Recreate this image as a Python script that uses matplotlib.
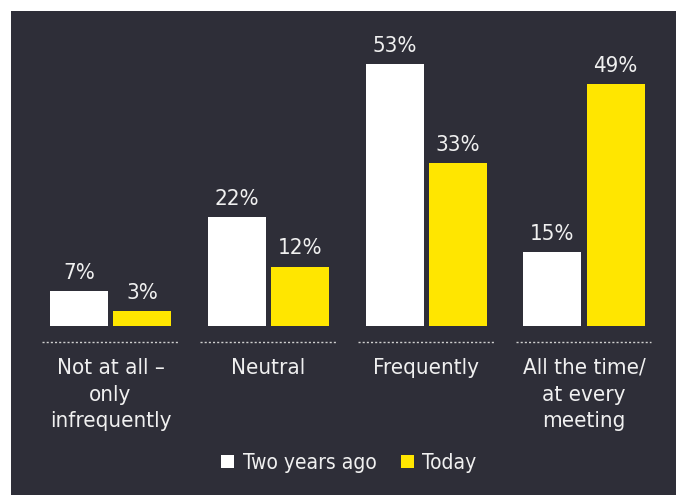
import numpy as np
import matplotlib.pyplot as plt
from matplotlib.patches import Rectangle, Patch

# data
categories = ['Not at all \u2013\nonly\ninfrequently', 'Neutral', 'Frequently', 'All the time/\nat every\nmeeting']
two_years_ago = [7, 22, 53, 15]
today = [3, 12, 33, 49]
series_names = ['Two years ago', 'Today']

bg = '#2e2e38'
yellow = '#ffe600'
txt = '#f0f0f0'

plt.rcParams['font.family'] = ['DejaVu Sans']
plt.rcParams['font.stretch'] = 'condensed'

fig = plt.figure(figsize=(6.76, 4.95), dpi=100)
fig.patch.set_facecolor('white')
fig.patches.append(Rectangle((11 / 676, 0), 1, 1 - 11 / 495, transform=fig.transFigure,
                             facecolor=bg, edgecolor='none', zorder=-10))

W, H = 676, 495
ax = fig.add_axes([31.6 / W, 169 / H, 631.3 / W, 296.4 / H])
ax.set_facecolor('none')

x = np.arange(len(categories))
bw = 0.368
off = 0.2
b1 = ax.bar(x - off, two_years_ago, bw, color='white')
b2 = ax.bar(x + off, today, bw, color=yellow)

for bars, vals in [(b1, two_years_ago), (b2, today)]:
    for b, v in zip(bars, vals):
        ax.annotate(f'{v}%', (b.get_x() + b.get_width() / 2, v), xytext=(0, 6),
                    textcoords='offset points', ha='center', va='bottom',
                    color=txt, fontsize=16)

# dotted separators under each group
for xi in x:
    ax.plot([xi - 0.433, xi + 0.427], [-3.24, -3.24], color='#d0d0d0', lw=1,
            linestyle=(0, (1.5, 1.5)), clip_on=False)

ax.set_xlim(-0.5, 3.5)
ax.set_ylim(0, 60)
ax.set_yticks([])
ax.set_xticks(x)
ax.set_xticklabels(categories, color=txt, fontsize=16, linespacing=1.42)
ax.tick_params(axis='x', length=0, pad=23)
for s in ax.spines.values():
    s.set_visible(False)

handles = [Patch(facecolor='white', edgecolor='none'), Patch(facecolor=yellow, edgecolor='none')]
fig.legend(handles, series_names, loc='center', bbox_to_anchor=(349 / W, 1 - 463 / H),
           ncol=2, frameon=False, fontsize=15, labelcolor=txt, handlelength=0.62,
           handleheight=0.62, handletextpad=0.4, columnspacing=1.2)

fig.savefig('out.png', dpi=100)
